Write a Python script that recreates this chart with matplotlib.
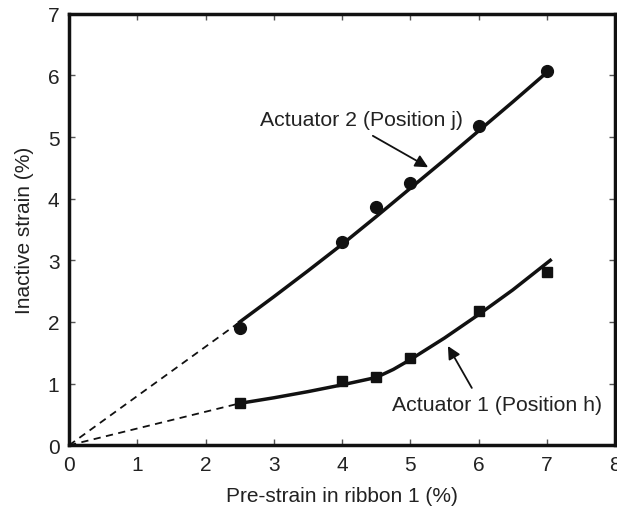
import numpy as np
import matplotlib
matplotlib.use('Agg')
import matplotlib.pyplot as plt

plt.rcParams['font.family'] = ['Liberation Sans', 'DejaVu Sans']

# Measured points
pre_strain = [2.5, 4.0, 4.5, 5.0, 6.0, 7.0]
act2_points = [1.91, 3.30, 3.87, 4.25, 5.18, 6.07]
act1_points = [0.68, 1.05, 1.10, 1.41, 2.17, 2.81]

# Fitted curves
act2_fit_x = [2.5, 3.0, 3.5, 4.0, 4.5, 5.0, 5.5, 6.0, 6.5, 7.0]
act2_fit_y = [2.00, 2.41, 2.83, 3.26, 3.71, 4.17, 4.63, 5.10, 5.57, 6.05]
act1_fit_x = [2.5, 3.0, 3.5, 4.0, 4.5, 4.75, 5.0, 5.5, 6.0, 6.5, 7.05]
act1_fit_y = [0.68, 0.77, 0.87, 0.98, 1.10, 1.23, 1.39, 1.74, 2.12, 2.52, 3.00]

# Extrapolation to origin
extrap_x = [0.0, 2.5]
act2_extrap_y = [0.0, 2.00]
act1_extrap_y = [0.0, 0.68]

fig = plt.figure(figsize=(6.17, 5.10), dpi=100)
ax = fig.add_axes([0.112, 0.125, 0.885, 0.846])

ink = '#111111'
ax.plot(extrap_x, act2_extrap_y, '--', color=ink, lw=1.3, dashes=(4, 3))
ax.plot(extrap_x, act1_extrap_y, '--', color=ink, lw=1.3, dashes=(4, 3))
ax.plot(act2_fit_x, act2_fit_y, '-', color=ink, lw=2.5)
ax.plot(act1_fit_x, act1_fit_y, '-', color=ink, lw=2.5)
ax.plot(pre_strain, act2_points, 'o', color=ink, ms=8.5)
ax.plot(pre_strain, act1_points, 's', color=ink, ms=7.5)

# labels and their arrows
arrow = dict(arrowstyle='-|>', color=ink, lw=1.3, mutation_scale=19, shrinkA=0, shrinkB=0)
ax.text(4.28, 5.29, 'Actuator 2 (Position j)', fontsize=15.3, color='#222222',
        ha='center', va='center')
ax.annotate('', xy=(5.26, 4.51), xytext=(4.45, 5.02), arrowprops=arrow)
ax.text(6.27, 0.665, 'Actuator 1 (Position h)', fontsize=15.3, color='#222222',
        ha='center', va='center')
ax.annotate('', xy=(5.55, 1.61), xytext=(5.9, 0.93), arrowprops=arrow)

ax.set_xlim(0, 8)
ax.set_ylim(0, 7)
ax.set_xticks(range(0, 9))
ax.set_yticks(range(0, 8))
ax.tick_params(direction='in', length=4, width=1, top=True, right=True,
               labelsize=15, pad=7, colors='#555555')
ax.tick_params(labelcolor='#222222')
for s in ax.spines.values():
    s.set_linewidth(2.5)
    s.set_color(ink)

ax.set_xlabel('Pre-strain in ribbon 1 (%)', fontsize=15, color='#222222', labelpad=9)
ax.set_ylabel('Inactive strain (%)', fontsize=15, color='#222222', labelpad=10)

fig.savefig('out.png', dpi=100)
